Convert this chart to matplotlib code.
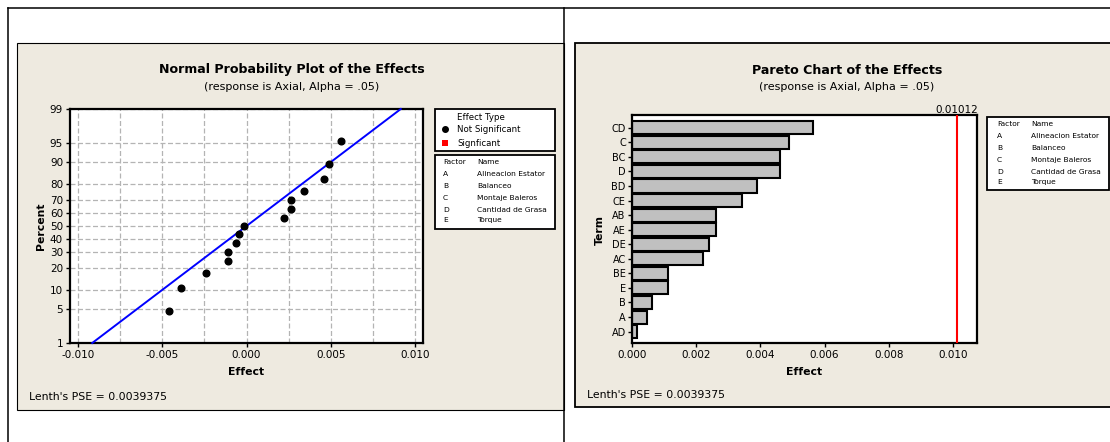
import numpy as np
import matplotlib
matplotlib.use("Agg")
import matplotlib.pyplot as plt
from matplotlib.patches import Rectangle
from matplotlib.lines import Line2D
from matplotlib.ticker import MultipleLocator, NullLocator, FixedLocator
from matplotlib.transforms import blended_transform_factory
from statistics import NormalDist

# ---- data -------------------------------------------------------------
terms = ["CD", "C", "BC", "D", "BD", "CE", "AB", "AE", "DE", "AC",
         "BE", "E", "B", "A", "AD"]
effects = [0.00563, 0.00488, 0.00462, -0.00462, -0.00388, 0.00344,
           0.00262, 0.00262, -0.00239, 0.00220, -0.00112, -0.00112,
           -0.00063, -0.00046, -0.00015]
factors = ["A", "B", "C", "D", "E"]
factor_names = ["Alineacion Estator", "Balanceo", "Montaje Baleros",
                "Cantidad de Grasa", "Torque"]
lenth_pse = 0.0039375
critical_effect = 0.01012
prob_ticks = [1, 5, 10, 20, 30, 40, 50, 60, 70, 80, 90, 95, 99]
npp_xticks = [-0.010, -0.005, 0.000, 0.005, 0.010]
pareto_xticks = [0.000, 0.002, 0.004, 0.006, 0.008, 0.010]

BEIGE = "#EEEAE0"
FONT = "DejaVu Sans"
plt.rcParams["font.family"] = FONT

W, H = 1110, 442
fig = plt.figure(figsize=(W / 100, H / 100), dpi=100)
fig.patch.set_facecolor("white")


def fx(x):
    return x / W


def fy(y):
    return 1 - y / H


def axes_rect(l, t, r, b):
    return [fx(l), fy(b), (r - l) / W, (b - t) / H]


def frect(l, t, r, b, **kw):
    p = Rectangle((fx(l), fy(b)), (r - l) / W, (b - t) / H,
                  transform=fig.transFigure, **kw)
    fig.add_artist(p)
    return p


def fline(xs, ys, **kw):
    ln = Line2D([fx(v) for v in xs], [fy(v) for v in ys],
                transform=fig.transFigure, **kw)
    fig.add_artist(ln)
    return ln


def ftext(x, y, s, **kw):
    return fig.text(fx(x), fy(y), s, **kw)


# ---- page frame and panel backgrounds -------------------------------
frect(17, 43, 563.5, 410, facecolor=BEIGE, edgecolor="black", lw=0.8, zorder=-2)
frect(575, 43, 1116, 407, facecolor=BEIGE, edgecolor="black", lw=1.3, zorder=-2)
fline([7.5, 1110], [7.5, 7.5], color="black", lw=1.1, zorder=5)
fline([7.5, 7.5], [7.5, 442], color="black", lw=1.1, zorder=5)
fline([563.5, 563.5], [7.5, 442], color="black", lw=1.1, zorder=5)

grid_kw = dict(color="#b4b4b4", lw=0.9, ls=(0, (4, 2)))


def style_axes(ax):
    ax.set_facecolor("white")
    for sp in ax.spines.values():
        sp.set_linewidth(1.6)
    ax.tick_params(axis="both", which="major", direction="out", length=3,
                   width=1.0, labelsize=7.5, pad=2)


# ---- normal probability plot -----------------------------------------
_nd = NormalDist()
_ppf = np.vectorize(_nd.inv_cdf, otypes=[float])
_cdf = np.vectorize(_nd.cdf, otypes=[float])


def _fwd(p):
    p = np.clip(np.asarray(p, dtype=float) / 100.0, 1e-9, 1 - 1e-9)
    return _ppf(p)


def _inv(z):
    return _cdf(np.asarray(z, dtype=float)) * 100.0


ax1 = fig.add_axes(axes_rect(70, 109, 423, 343))
style_axes(ax1)
ax1.set_yscale("function", functions=(_fwd, _inv))
ax1.set_xlim(-0.01048, 0.01048)
ax1.set_ylim(1, 99)
ax1.yaxis.set_major_locator(FixedLocator(prob_ticks))
ax1.set_yticklabels([str(t) for t in prob_ticks])
ax1.yaxis.set_minor_locator(NullLocator())
ax1.set_xticks(npp_xticks)
ax1.set_xticklabels([f"{t:.3f}" for t in npp_xticks])
ax1.xaxis.set_minor_locator(MultipleLocator(0.0025))
ax1.tick_params(axis="x", which="minor", length=0)
ax1.grid(True, which="both", axis="x", **grid_kw)
ax1.grid(True, which="major", axis="y", **grid_kw)
ax1.set_axisbelow(True)

sorted_eff = np.sort(np.array(effects))
n = len(sorted_eff)
ranks = np.arange(1, n + 1)
plot_pos = (ranks - 0.3) / (n + 0.4) * 100.0
z01 = _nd.inv_cdf(0.01)
ax1.plot([lenth_pse * z01, -lenth_pse * z01], [1, 99], color="#0000ff",
         lw=1.4, zorder=3, clip_on=False)
ax1.plot(sorted_eff, plot_pos, "o", color="black", ms=4.8, zorder=4)

ftext(292, 70, "Normal Probability Plot of the Effects", ha="center",
      va="center", fontsize=9.1, fontweight="bold")
ftext(292, 87, "(response is Axial, Alpha = .05)", ha="center",
      va="center", fontsize=8)
ftext(246.5, 372, "Effect", ha="center", va="center", fontsize=7.8,
      fontweight="bold")
ftext(41, 226, "Percent", ha="center", va="center", fontsize=7.8,
      fontweight="bold", rotation=90)
ftext(29, 397, "Lenth's PSE = 0.0039375", ha="left", va="center",
      fontsize=7.8)

# legend: effect type
frect(435, 109, 555, 151, facecolor="white", edgecolor="black", lw=1.3, zorder=6)
ftext(457, 117, "Effect Type", ha="left", va="center", fontsize=6.2, zorder=7)
fig.add_artist(Line2D([fx(445)], [fy(129)], marker="o", color="black",
                      ms=4, ls="none", transform=fig.transFigure, zorder=7))
ftext(457, 129, "Not Significant", ha="left", va="center", fontsize=6.2, zorder=7)
frect(442, 140, 448, 146, facecolor="#ff0000", edgecolor="none", zorder=7)
ftext(457, 143, "Signficant", ha="left", va="center", fontsize=6.2, zorder=7)

# legend: factor names
def factor_box(l, t, r, b, x1, x2, rows):
    frect(l, t, r, b, facecolor="white", edgecolor="black", lw=1.3, zorder=6)
    ftext(x1, rows[0], "Factor", ha="left", va="center", fontsize=5.4, zorder=7)
    ftext(x2, rows[0], "Name", ha="left", va="center", fontsize=5.4, zorder=7)
    for f, nm, yy in zip(factors, factor_names, rows[1:]):
        ftext(x1, yy, f, ha="left", va="center", fontsize=5.4, zorder=7)
        ftext(x2, yy, nm, ha="left", va="center", fontsize=5.4, zorder=7)


factor_box(435, 155, 555, 229, 443, 477, [162, 174, 186, 198, 210, 220])

# ---- Pareto chart -----------------------------------------------------
ax2 = fig.add_axes(axes_rect(632, 115, 977, 343))
style_axes(ax2)
ypos = np.arange(len(terms))[::-1]
ax2.barh(ypos, np.abs(effects), height=0.9, color="#c0c0c0",
         edgecolor="black", lw=1.5, zorder=2)
ax2.axvline(critical_effect, color="#ff0000", lw=1.5, zorder=3)
ax2.set_xlim(0, 0.01075)
ax2.set_ylim(-0.78, 14.87)
ax2.set_yticks(ypos)
ax2.set_yticklabels(terms)
ax2.tick_params(axis="y", labelsize=7, pad=1.5)
ax2.set_xticks(pareto_xticks)
ax2.set_xticklabels([f"{t:.3f}" for t in pareto_xticks])
trans = blended_transform_factory(ax2.transData, ax2.transAxes)
ax2.text(critical_effect, 1.0, f"{critical_effect:.5f}", transform=trans,
         ha="center", va="bottom", fontsize=7.5)

ftext(847, 70, "Pareto Chart of the Effects", ha="center", va="center",
      fontsize=9.1, fontweight="bold")
ftext(847, 87, "(response is Axial, Alpha = .05)", ha="center",
      va="center", fontsize=8)
ftext(804.5, 372, "Effect", ha="center", va="center", fontsize=7.8,
      fontweight="bold")
ftext(600, 230, "Term", ha="center", va="center", fontsize=7.8,
      fontweight="bold", rotation=90)
ftext(587, 395, "Lenth's PSE = 0.0039375", ha="left", va="center",
      fontsize=7.8)

factor_box(987, 117, 1109, 190, 997, 1031, [124, 136, 148, 160, 172, 182])

fig.savefig("out.png", dpi=100, facecolor="white")
